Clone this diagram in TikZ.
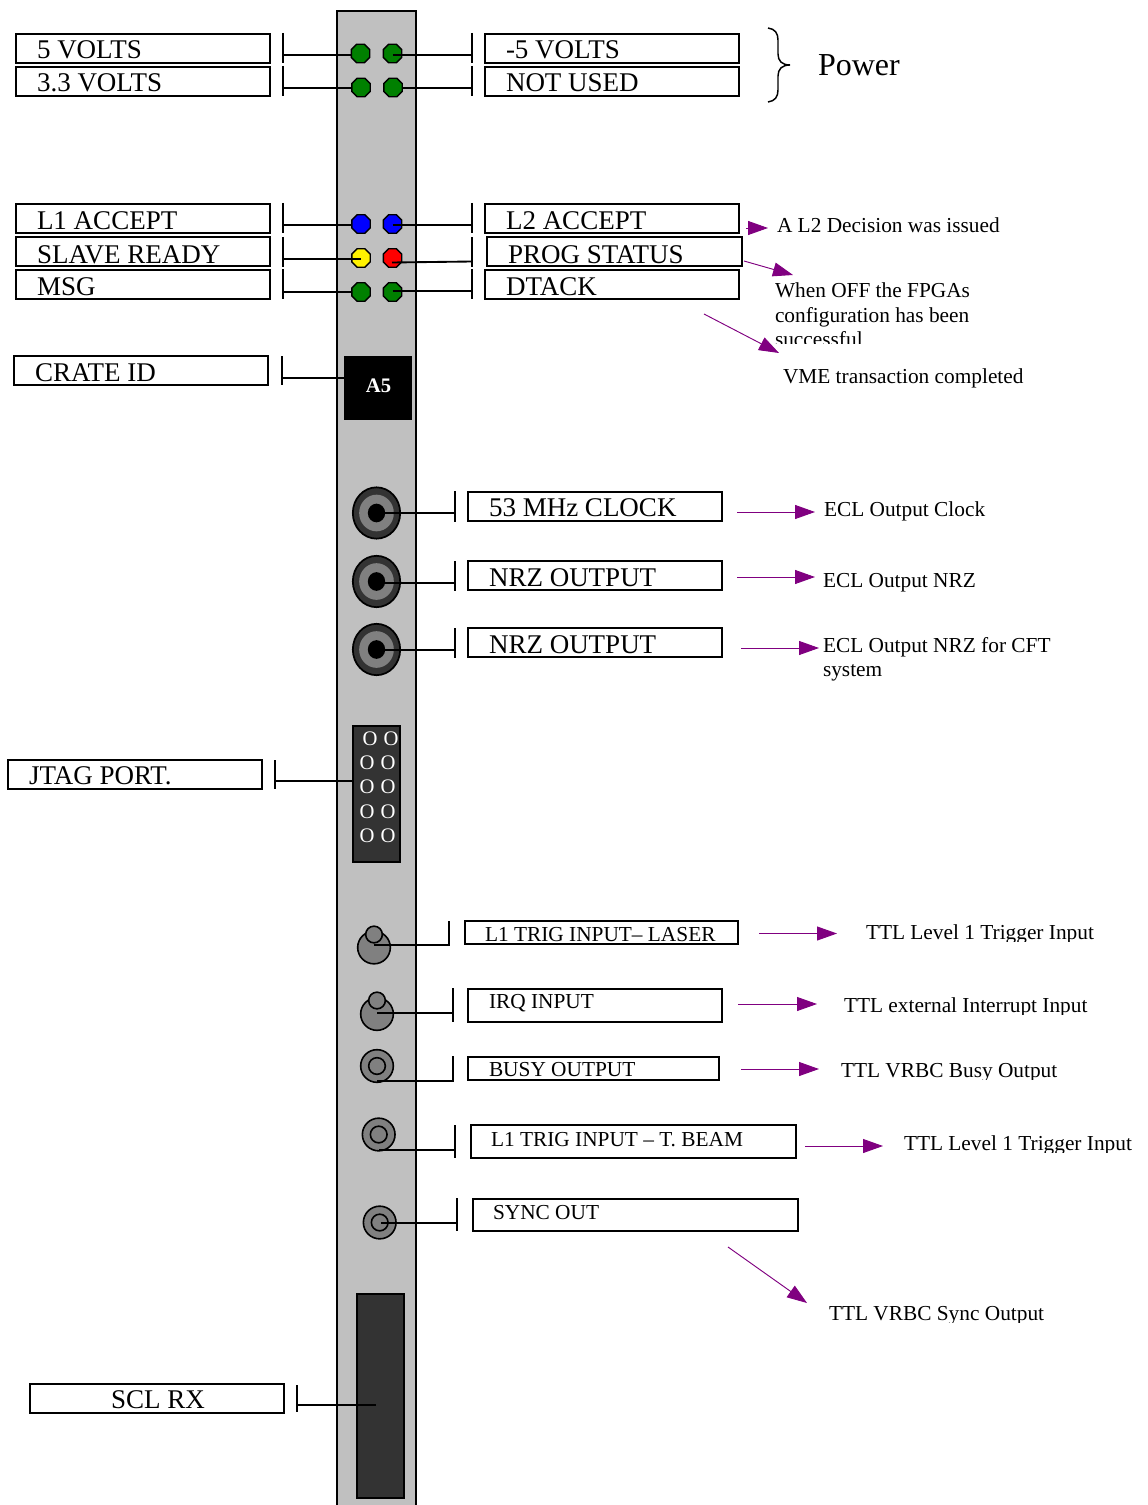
\documentclass[tikz,border=0pt]{standalone}
\usepackage{fontspec}
\setmainfont{Liberation Serif}
\usetikzlibrary{shapes.geometric,arrows.meta}
\definecolor{panelgray}{HTML}{C0C0C0}
\definecolor{darkfill}{HTML}{333333}
\definecolor{midgray}{HTML}{808080}
\definecolor{ledgreen}{HTML}{008000}
\definecolor{notepurple}{HTML}{800080}
\tikzset{
  panel/.style={draw=black,fill=panelgray,line width=1.4pt},
  boxst/.style={draw=black,fill=white,line width=1.3pt,inner sep=0pt,outer sep=0pt},
  biglab/.style={anchor=base west,inner sep=0pt,outer sep=0pt,font=\fontsize{20.25pt}{24pt}\selectfont},
  smalllab/.style={anchor=base west,inner sep=0pt,outer sep=0pt,font=\fontsize{16pt}{19pt}\selectfont},
  notest/.style={anchor=base west,inner sep=0pt,outer sep=0pt,font=\fontsize{16pt}{19pt}\selectfont},
  powerst/.style={anchor=base west,inner sep=0pt,outer sep=0pt,font=\fontsize{24pt}{28pt}\selectfont},
  led/.style={regular polygon,regular polygon sides=8,draw=black,line width=1.1pt,minimum size=15pt,inner sep=0pt,outer sep=0pt,fill=#1},
  wire/.style={draw=black,line width=1.4pt},
  bar/.style={draw=black,line width=1.4pt},
  marrow/.style={draw=notepurple,line width=0.7pt,-{Triangle[length=15pt,width=10.5pt,fill=notepurple]}},
  jackouter/.style={ellipse,draw=black,line width=1.3pt,fill=darkfill,minimum width=35.5pt,minimum height=38.5pt,inner sep=0pt,outer sep=0pt},
  jackmid/.style={ellipse,fill=midgray,minimum width=26pt,minimum height=27.5pt,inner sep=0pt,outer sep=0pt},
  jackcore/.style={ellipse,fill=black,minimum width=13pt,minimum height=14pt,inner sep=0pt,outer sep=0pt},
  lemoouter/.style={circle,draw=black,line width=1.2pt,fill=midgray,minimum size=24.5pt,inner sep=0pt,outer sep=0pt},
  lemoinner/.style={circle,draw=black,line width=1.2pt,fill=midgray,minimum size=12.5pt,inner sep=0pt,outer sep=0pt},
  pinlab/.style={anchor=center,inner sep=0pt,outer sep=0pt,text=white,font=\fontsize{15.5pt}{18pt}\selectfont},
}
% name, x0, y0, x1, y1, text style, text position, text
\newcommand\labelbox[8]{%
  \pgfmathsetmacro\bw{(#4-#2)*0.75}\pgfmathsetmacro\bh{(#5-#3)*0.75}%
  \node[boxst,minimum width=\bw pt,minimum height=\bh pt] (#1) at ({(#2+#4)/2},{(#3+#5)/2}) {};
  \node[#6] (#1t) at (#7) {#8};}
% name, x, top y, bottom y, wire y
\newcommand\tbar[5]{%
  \coordinate (#1) at (#2,#5);
  \draw[bar] (#2,#3) -- (#2,#4);}
% name, start, end
\newcommand\noteline[3]{%
  \coordinate (#1s) at (#2); \coordinate (#1e) at (#3);
  \draw[marrow] (#1s) -- (#1e);}
% name, x, baseline, clip y, text
\newcommand\clipnote[5]{%
  \begin{scope}\clip (#2-5,#3-25) rectangle (1148,#4);
  \node[notest] (#1) at (#2,#3) {#5};\end{scope}}
\begin{document}
\begin{tikzpicture}[x=0.75pt,y=-0.75pt]
\useasboundingbox (0,0) rectangle (1148,1505);
\fill[white] (0,0) rectangle (1148,1505);
\node[panel,minimum width=59.25pt,minimum height=1130pt,inner sep=0pt,outer sep=0pt] (front) at (376.5,764) {};

% Power group
\labelbox{v5}{16}{34}{270}{63}{biglab}{37,59}{5 VOLTS}
\labelbox{v33}{16}{67}{270}{96}{biglab}{37,92}{3.3 VOLTS}
\labelbox{vm5}{485}{34}{739}{63}{biglab}{506,59}{-5 VOLTS}
\labelbox{nu}{485}{67}{739}{96}{biglab}{506,92}{NOT USED}
\tbar{bv5}{283}{33}{63}{55}
\tbar{bv33}{283}{66}{96}{88}
\tbar{bvm5}{472}{33}{63}{55}
\tbar{bnu}{472}{66}{96}{88}
\draw[wire] (bv5) -- (360,55);
\draw[wire] (bv33) -- (361,88);
\draw[wire] (bnu) -- (393,88);
\node[led=ledgreen] (l5) at (360.5,53.5) {};
\node[led=ledgreen] (lm5) at (392.5,53.5) {};
\node[led=ledgreen] (l33) at (361,87.5) {};
\node[led=ledgreen] (lnu) at (393,87.5) {};
\draw[wire] (392.5,55) -- (bvm5);
\node[powerst] (power) at (818,76) {Power};
\coordinate (bracetop) at (768,28);
\coordinate (bracetip) at (790,65);
\coordinate (bracebot) at (768,102);
\draw[black,line width=1.1pt] (bracetop) .. controls (775,29) and (778,33) .. (778,40) -- (778,54)
  .. controls (778,61) and (782,65) .. (bracetip) .. controls (782,65) and (778,69) .. (778,76)
  -- (778,90) .. controls (778,97) and (775,101) .. (bracebot);

% Status group
\labelbox{l1a}{16}{204}{270}{233}{biglab}{37,229}{L1 ACCEPT}
\labelbox{sr}{16}{237}{270}{266}{biglab}{37,263}{SLAVE READY}
\labelbox{msg}{16}{270}{270}{299}{biglab}{37,295}{MSG}
\labelbox{l2a}{485}{204}{739}{233}{biglab}{506,229}{L2 ACCEPT}
\labelbox{ps}{487}{237}{742}{266}{biglab}{508,263}{PROG STATUS}
\labelbox{dt}{485}{270}{739}{299}{biglab}{506,295}{DTACK}
\tbar{bl1a}{283}{203}{233}{225}
\tbar{bsr}{283}{237}{267}{259}
\tbar{bmsg}{283}{269}{299}{292}
\tbar{bl2a}{472}{203}{233}{225}
\tbar{bps}{472}{237}{267}{261.5}
\tbar{bdt}{472}{269}{299}{291}
\draw[wire] (bl1a) -- (361,225);
\draw[wire] (bmsg) -- (361,292);
\node[led=blue] (ll1a) at (361,224) {};
\node[led=blue] (ll2a) at (392.5,224) {};
\node[led=yellow] (lsr) at (361,258) {};
\node[led=red] (lps) at (392.5,258) {};
\node[led=ledgreen] (lmsg) at (361,292) {};
\node[led=ledgreen] (ldt) at (392.5,292) {};
\draw[wire] (bsr) -- (361,259);
\draw[wire] (392.5,225) -- (bl2a);
\draw[wire] (392,262.5) -- (bps);
\draw[wire] (392.5,291) -- (bdt);

\noteline{nl2}{746,228}{768,228}
\node[notest] (tl2) at (777,233) {A L2 Decision was issued};
\noteline{nps}{744,261}{793,275}
\clipnote{tps}{775}{297}{345}{When OFF the FPGAs}
\clipnote{tpsb}{775}{322}{345}{configuration has been}
\clipnote{tpsc}{775}{346}{343.5}{successful}
\noteline{ndt}{704,314}{779,353}
\node[notest] (tdt) at (783,383) {VME transaction completed};

% Crate ID
\labelbox{cid}{14}{356}{268}{385}{biglab}{35,381}{CRATE ID}
\node[fill=black,draw=black,line width=0.5pt,minimum width=50.5pt,minimum height=47.5pt,inner sep=0pt,outer sep=0pt] (a5) at (378,387.5) {};
\node[anchor=center,text=white,inner sep=0pt,font=\fontsize{15.5pt}{18pt}\selectfont\bfseries] (a5t) at (378.5,386) {A5};
\tbar{bcid}{282}{356}{385}{378}
\draw[wire] (bcid) -- (a5.west |- bcid);

% Jacks
\foreach \n/\yy in {ja/513,jb/581.5,jc/649.5}{
  \node[jackouter] (\n) at (376.5,\yy) {};
  \node[jackmid] (\n m) at (376.5,\yy) {};
  \node[jackcore] (\n c) at (376.5,\yy) {};
}
\labelbox{clk}{468}{492}{722}{521}{biglab}{489,516}{53 MHz CLOCK}
\labelbox{nrza}{468}{561}{722}{590}{biglab}{489,586}{NRZ OUTPUT}
\labelbox{nrzb}{468}{628}{722}{657}{biglab}{489,653}{NRZ OUTPUT}
\tbar{bja}{455}{491}{522}{513}
\tbar{bjb}{455}{561}{591}{583}
\tbar{bjc}{455}{628}{658}{650}
\draw[wire] (376.5,513) -- (bja);
\draw[wire] (376.5,583) -- (bjb);
\draw[wire] (376.5,650) -- (bjc);
\noteline{nclk}{737,512}{815,512}
\noteline{nnrza}{737,577}{815,577}
\noteline{nnrzb}{741,648}{819,648}
\node[notest] (tclk) at (824,516) {ECL Output Clock};
\node[notest] (tnrza) at (823,587) {ECL Output NRZ};
\node[notest] (tnrzb) at (823,652) {ECL Output NRZ for CFT};
\node[notest] (tnrzc) at (823,676) {system};

% JTAG
\labelbox{jt}{8}{760}{262}{789}{biglab}{29,784}{JTAG PORT.}
\node[fill=darkfill,draw=black,line width=1.3pt,minimum width=35.75pt,minimum height=101.5pt,inner sep=0pt,outer sep=0pt] (jtag) at (376.5,794) {};
\tbar{bjt}{275}{760}{789}{781}
\draw[wire] (bjt) -- (jtag.west |- bjt);
\foreach \n/\xa/\xb/\yy in {a/370/391/739,b/367/388/763,c/367/388/787,d/367/388/812,e/367/388/836}{
  \node[pinlab] (pl\n) at (\xa,\yy) {O};
  \node[pinlab] (pr\n) at (\xb,\yy) {O};
}

% Lower connectors
\node[lemoouter] (t1) at (374,947.5) {};
\node[lemoinner] (t1s) at (374,934.5) {};
\node[lemoouter] (t2) at (377,1014) {};
\node[lemoinner] (t2s) at (377,1000.5) {};
\node[lemoouter] (r3) at (377,1066) {};
\node[lemoinner] (r3s) at (377,1066) {};
\node[lemoouter] (r4) at (378.7,1134.5) {};
\node[lemoinner] (r4s) at (378.7,1134.5) {};
\node[lemoouter] (r5) at (379.7,1222.5) {};
\node[lemoinner] (r5s) at (379.7,1222.5) {};
\coordinate (t1w) at (373.5,945);
\coordinate (t2w) at (377,1013);
\coordinate (r3w) at (377,1081);
\coordinate (r4w) at (379,1150);
\coordinate (r5w) at (381,1223);
\coordinate (bt1) at (449,921);
\coordinate (bt2) at (453,1013);
\coordinate (br3) at (453,1056);
\draw[wire] (t1w) -| (bt1);
\draw[wire] (t2w) -- (bt2);
\draw[bar] (453,988) -- (453,1022);
\draw[wire] (r3w) -| (br3);
\tbar{br4}{455}{1125}{1158}{1150}
\draw[wire] (r4w) -- (br4);
\tbar{br5}{457}{1198}{1231}{1223}
\draw[wire] (r5w) -- (br5);

\labelbox{lsr}{465}{921}{738}{944}{smalllab}{485,941}{L1 TRIG INPUT– LASER}
\labelbox{irq}{468}{989}{722}{1022}{smalllab}{489,1008}{IRQ INPUT}
\labelbox{bsy}{468}{1057}{719}{1080}{smalllab}{489,1076}{BUSY OUTPUT}
\labelbox{tbm}{471}{1125}{796}{1158}{smalllab}{491,1146}{L1 TRIG INPUT – T. BEAM}
\labelbox{syn}{473}{1199}{798}{1231}{smalllab}{493,1219}{SYNC OUT}

\noteline{nlsr}{759,933.5}{837,933.5}
\noteline{nirq}{738,1004}{817,1004}
\noteline{nbsy}{741,1069}{819,1069}
\noteline{ntbm}{805,1146}{883,1146}
\noteline{nsyn}{728,1247}{807,1303}
\clipnote{tlsr}{866}{939}{941}{TTL Level 1 Trigger Input}
\clipnote{tirq}{844}{1012}{1014}{TTL external Interrupt Input}
\clipnote{tbsy}{841}{1077}{1079}{TTL VRBC Busy Output}
\clipnote{ttbm}{904}{1150}{1152}{TTL Level 1 Trigger Input}
\clipnote{tsyn}{829}{1320}{1322}{TTL VRBC Sync Output}

% SCL RX
\labelbox{scl}{30}{1384}{284}{1413}{biglab}{111,1408}{SCL RX}
\node[fill=darkfill,draw=black,line width=1.3pt,minimum width=35.75pt,minimum height=152.5pt,inner sep=0pt,outer sep=0pt] (rx) at (380.5,1396) {};
\tbar{bscl}{297}{1385}{1412}{1405}
\coordinate (rxw) at (376,1405);
\draw[wire] (bscl) -- (rxw);
\end{tikzpicture}
\end{document}
